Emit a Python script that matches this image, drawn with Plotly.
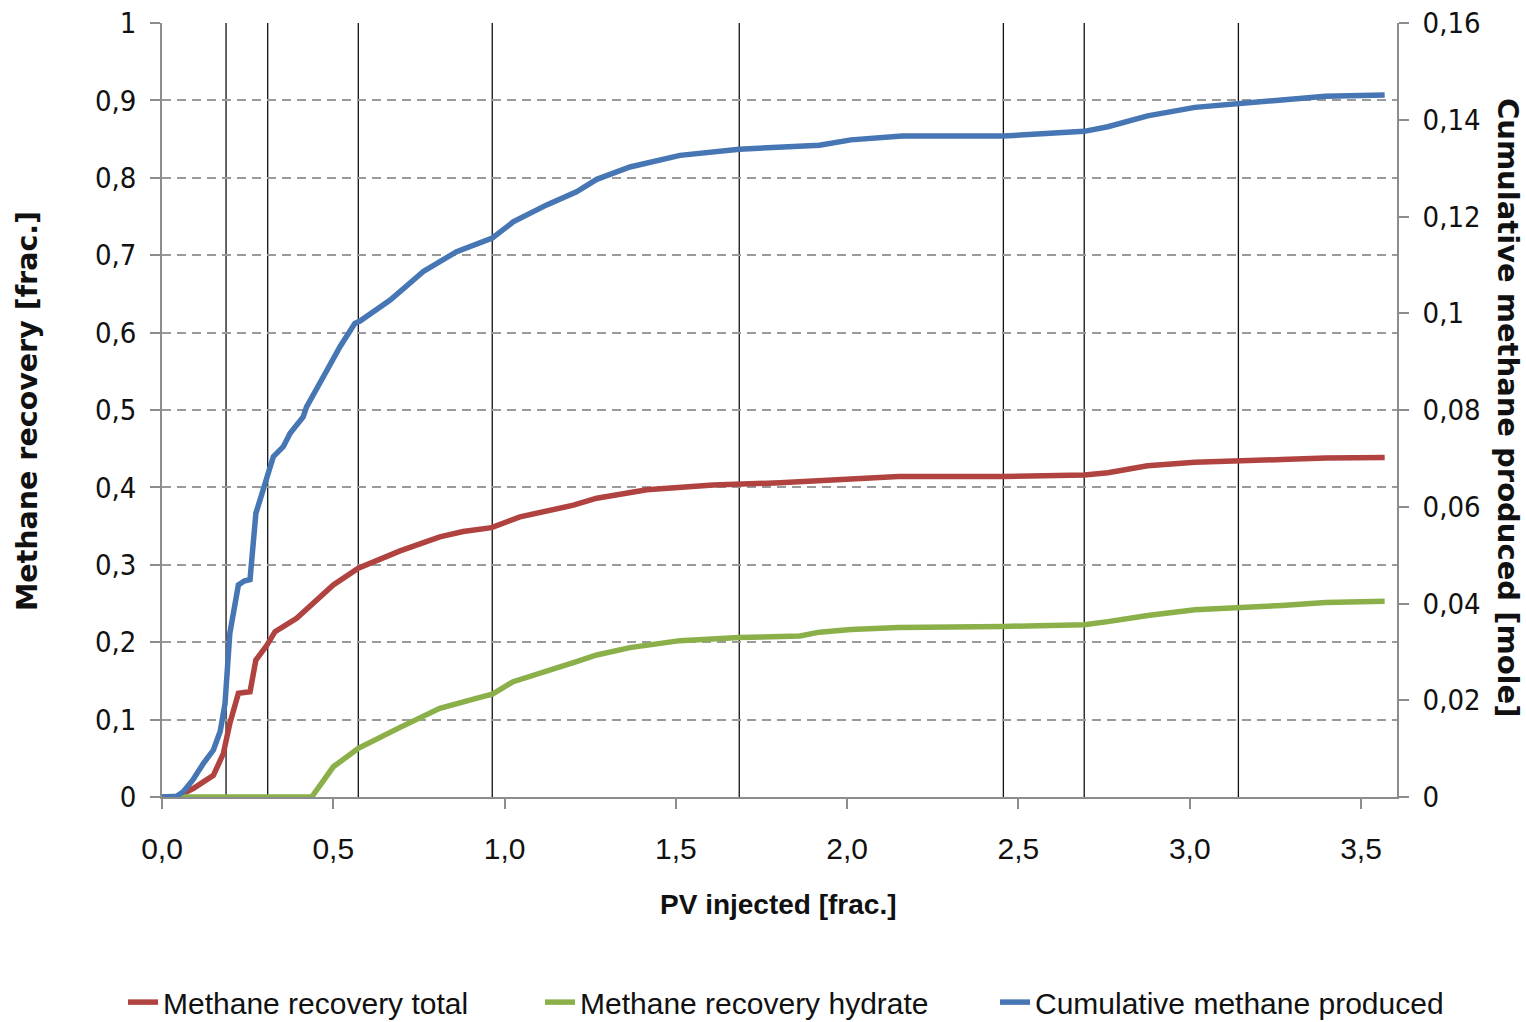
import plotly.graph_objects as go

# ---- data ----
blue_x = [0.0, 0.03, 0.043, 0.062, 0.09, 0.121, 0.150, 0.17, 0.184, 0.198, 0.210, 0.223, 0.240, 0.257,
          0.274, 0.306, 0.325, 0.354, 0.374, 0.412, 0.422, 0.471, 0.520, 0.563, 0.578, 0.666, 0.763,
          0.860, 0.928, 0.964, 1.025, 1.123, 1.210, 1.269, 1.366, 1.512, 1.685, 1.804, 1.919, 2.011,
          2.127, 2.161, 2.456, 2.692, 2.761, 2.877, 3.015, 3.142, 3.269, 3.396, 3.569]
blue_y = [0.0, 0.0, 0.00016, 0.00109, 0.00352, 0.00696, 0.00971, 0.0136, 0.01936, 0.03384, 0.0392,
          0.04384, 0.04464, 0.04496, 0.05864, 0.06554, 0.07035, 0.07242, 0.0752, 0.07856, 0.08064,
          0.08688, 0.09312, 0.09792, 0.0984, 0.10272, 0.10864, 0.11272, 0.11456, 0.11552, 0.11888,
          0.1224, 0.12512, 0.12768, 0.13024, 0.13264, 0.13392, 0.1344, 0.13472, 0.13584, 0.13632,
          0.13664, 0.13664, 0.1376, 0.13856, 0.1408, 0.14256, 0.1432, 0.1441, 0.14486, 0.1451]

red_x = [0.0, 0.043, 0.05, 0.091, 0.150, 0.179, 0.198, 0.223, 0.257, 0.274, 0.306, 0.330, 0.393, 0.432,
         0.5, 0.573, 0.695, 0.811, 0.879, 0.962, 1.045, 1.201, 1.269, 1.415, 1.609, 1.804, 1.919, 2.011,
         2.15, 2.456, 2.692, 2.761, 2.877, 3.015, 3.142, 3.269, 3.396, 3.569]
red_y = [0.0, 0.0, 0.002, 0.011, 0.028, 0.056, 0.095, 0.134, 0.136, 0.177, 0.196, 0.2136, 0.231, 0.246,
         0.274, 0.2955, 0.318, 0.336, 0.343, 0.348, 0.362, 0.377, 0.386, 0.397, 0.403, 0.406, 0.4087,
         0.412, 0.414, 0.414, 0.416, 0.419, 0.428, 0.4326, 0.4335, 0.436, 0.438, 0.4387]

green_x = [0.0, 0.437, 0.5, 0.573, 0.695, 0.811, 0.928, 0.964, 1.025, 1.123, 1.210, 1.269, 1.366, 1.512,
           1.685, 1.862, 1.919, 2.011, 2.15, 2.456, 2.692, 2.761, 2.877, 3.015, 3.142, 3.269, 3.396, 3.569]
green_y = [0.0, 0.0, 0.039, 0.063, 0.09, 0.1146, 0.1288, 0.1327, 0.149, 0.162, 0.175, 0.1835, 0.193,
           0.202, 0.206, 0.208, 0.213, 0.2165, 0.219, 0.2204, 0.2227, 0.2266, 0.2346, 0.2418, 0.2442,
           0.2475, 0.2514, 0.2528]

marker_lines_x = [0.187, 0.3085, 0.573, 0.964, 1.685, 2.456, 2.692, 3.142]

x_ticks = [0.0, 0.5, 1.0, 1.5, 2.0, 2.5, 3.0, 3.5]
x_ticklabels = ["0,0", "0,5", "1,0", "1,5", "2,0", "2,5", "3,0", "3,5"]
yl_ticks = [0, 0.1, 0.2, 0.3, 0.4, 0.5, 0.6, 0.7, 0.8, 0.9, 1.0]
yl_ticklabels = ["0", "0,1", "0,2", "0,3", "0,4", "0,5", "0,6", "0,7", "0,8", "0,9", "1"]
yr_ticks = [0, 0.02, 0.04, 0.06, 0.08, 0.10, 0.12, 0.14, 0.16]
yr_ticklabels = ["0", "0,02", "0,04", "0,06", "0,08", "0,1", "0,12", "0,14", "0,16"]

names = ["Methane recovery total", "Methane recovery hydrate", "Cumulative methane produced"]
colors = ["#B0423F", "#8BB04A", "#4676B3"]
legend_widths = [372, 410, 410]

NARROW = "Liberation Sans, Arial, sans-serif"
WIDE = "DejaVu Sans Condensed, DejaVu Sans, Verdana, sans-serif"
TITLE = "DejaVu Sans, Verdana, sans-serif"

fig = go.Figure()
fig.add_trace(go.Scatter(x=red_x, y=red_y, mode="lines", name=names[0], legendwidth=legend_widths[0],
                         line=dict(color=colors[0], width=5.5)))
fig.add_trace(go.Scatter(x=green_x, y=green_y, mode="lines", name=names[1], legendwidth=legend_widths[1],
                         line=dict(color=colors[1], width=5.5)))
fig.add_trace(go.Scatter(x=blue_x, y=blue_y, mode="lines", name=names[2], yaxis="y2",
                         legendwidth=legend_widths[2],
                         line=dict(color=colors[2], width=5.5)))

for xv in marker_lines_x:
    fig.add_shape(type="line", xref="x", yref="paper", x0=xv, x1=xv, y0=0, y1=1,
                  line=dict(color="#111111", width=1.3), layer="below")

fig.update_layout(
    width=1526, height=1022,
    margin=dict(l=162, r=129, t=23, b=225, autoexpand=False),
    paper_bgcolor="white", plot_bgcolor="white",
    showlegend=True,
    legend=dict(orientation="h", x=(123 - 162) / 1235, xanchor="left", y=-0.265, yanchor="middle",
                font=dict(family=NARROW, size=30, color="#111111"),
                itemwidth=30, tracegroupgap=0, bgcolor="rgba(0,0,0,0)"),
    xaxis=dict(range=[0, 3.605], tickvals=x_ticks, ticktext=x_ticklabels,
               showgrid=False, zeroline=False, showline=True, linecolor="#8c8c8c", linewidth=1.5,
               ticks="outside", ticklen=10, tickcolor="#8c8c8c", tickwidth=1.5,
               ticklabelstandoff=14,
               tickfont=dict(family=NARROW, size=30, color="#111111")),
    yaxis=dict(range=[0, 1], tickvals=yl_ticks, ticktext=yl_ticklabels,
               showgrid=True, gridcolor="#9a9a9a", gridwidth=1.5, griddash="9px,6px",
               zeroline=False, showline=True, linecolor="#8c8c8c", linewidth=1.5,
               ticks="outside", ticklen=10, tickcolor="#8c8c8c", tickwidth=1.5,
               ticklabelstandoff=8,
               tickfont=dict(family=WIDE, size=29, color="#111111")),
    yaxis2=dict(range=[0, 0.16], tickvals=yr_ticks, ticktext=yr_ticklabels,
                overlaying="y", side="right", showgrid=False, zeroline=False,
                showline=True, linecolor="#8c8c8c", linewidth=1.5,
                ticks="outside", ticklen=10, tickcolor="#8c8c8c", tickwidth=1.5,
                ticklabelstandoff=8,
                tickfont=dict(family=WIDE, size=29, color="#111111")),
)

fig.add_annotation(text="<b>Methane recovery [frac.]</b>", xref="paper", yref="paper",
                   x=-0.1093, y=0.4987, textangle=-90, showarrow=False,
                   xanchor="center", yanchor="middle",
                   font=dict(family=TITLE, size=28.5, color="#111111"))
fig.add_annotation(text="<b>Cumulative methane produced [mole]</b>", xref="paper", yref="paper",
                   x=1.0899, y=0.5026, textangle=90, showarrow=False,
                   xanchor="center", yanchor="middle",
                   font=dict(family=TITLE, size=29, color="#111111"))
fig.add_annotation(text="<b>PV injected [frac.]</b>", xref="paper", yref="paper",
                   x=0.4988, y=-0.1395, showarrow=False, xanchor="center", yanchor="middle",
                   font=dict(family=NARROW, size=28, color="#111111"))

fig.write_html("out.html")
